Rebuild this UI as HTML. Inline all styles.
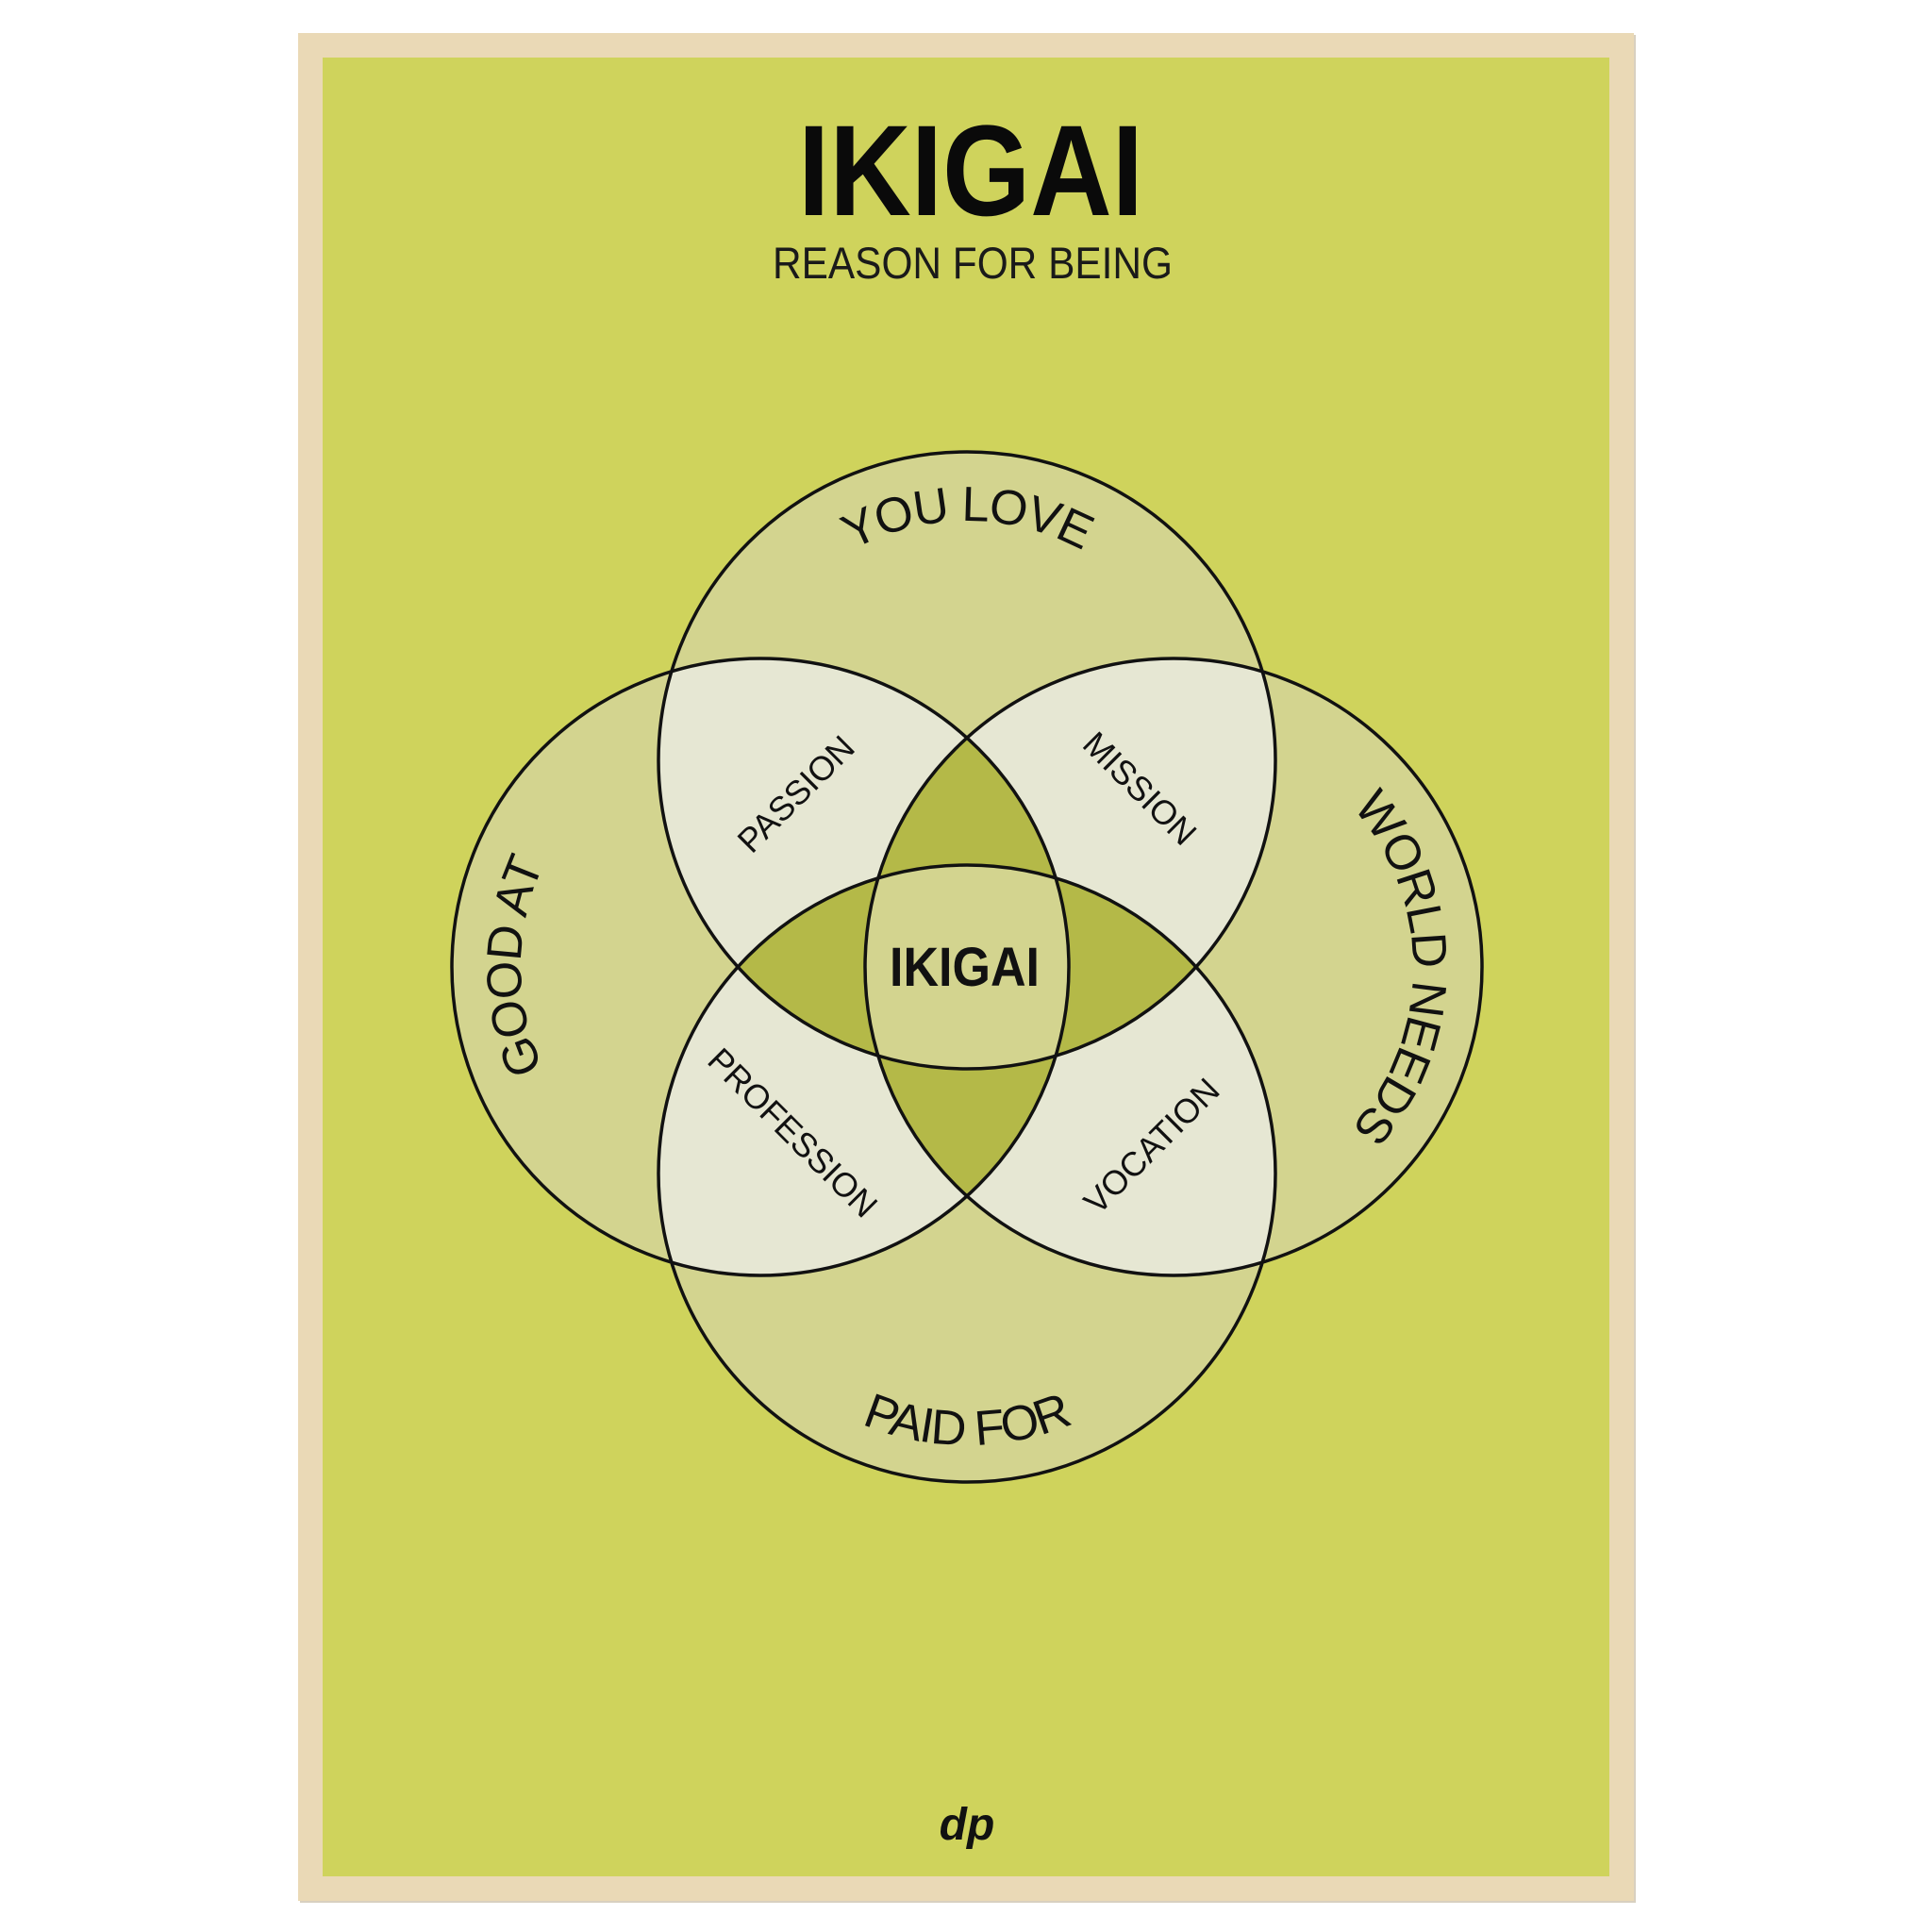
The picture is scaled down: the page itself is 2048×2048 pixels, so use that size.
<!DOCTYPE html>
<html><head><meta charset="utf-8"><style>html,body{margin:0;padding:0;background:#fff}svg{display:block}</style></head>
<body>
<svg width="2048" height="2048" viewBox="0 0 2048 2048" xmlns="http://www.w3.org/2000/svg" font-family="Liberation Sans, sans-serif">
<defs>
<clipPath id="cT"><circle cx="1025" cy="806" r="327"/></clipPath>
<clipPath id="cB"><circle cx="1025" cy="1244" r="327"/></clipPath>
<clipPath id="cL"><circle cx="806" cy="1025" r="327"/></clipPath>
<clipPath id="cR"><circle cx="1244" cy="1025" r="327"/></clipPath>
<path id="pT" d="M771,806 A254,254 0 0 1 1279,806"/>
<path id="pL" d="M806,1279 A254,254 0 0 1 806,771"/>
<path id="pR" d="M1244,771 A254,254 0 0 1 1244,1279"/>
<path id="pB" d="M737,1244 A288,288 0 0 0 1313,1244"/>
</defs>
<rect x="0" y="0" width="2048" height="2048" fill="#fff"/>
<rect x="318" y="37" width="1416" height="1980" fill="#d8d0c0"/>
<rect x="316" y="35" width="1416" height="1980" fill="#ead9b6"/>
<rect x="342" y="61" width="1364" height="1928" fill="#cfd35c"/>
<g fill="#d3d48f">
<circle cx="1025" cy="806" r="327"/><circle cx="1025" cy="1244" r="327"/>
<circle cx="806" cy="1025" r="327"/><circle cx="1244" cy="1025" r="327"/>
</g>
<g fill="#e6e7d3">
<g clip-path="url(#cT)"><circle cx="806" cy="1025" r="327"/><circle cx="1244" cy="1025" r="327"/><circle cx="1025" cy="1244" r="327"/></g>
<g clip-path="url(#cB)"><circle cx="806" cy="1025" r="327"/><circle cx="1244" cy="1025" r="327"/></g>
<g clip-path="url(#cL)"><circle cx="1244" cy="1025" r="327"/></g>
</g>
<g fill="#b4b948">
<g clip-path="url(#cT)"><g clip-path="url(#cL)"><circle cx="1244" cy="1025" r="327"/><circle cx="1025" cy="1244" r="327"/></g></g>
<g clip-path="url(#cB)"><g clip-path="url(#cR)"><circle cx="806" cy="1025" r="327"/><circle cx="1025" cy="806" r="327"/></g></g>
</g>
<g clip-path="url(#cT)"><g clip-path="url(#cB)"><g clip-path="url(#cL)"><circle cx="1244" cy="1025" r="327" fill="#d3d48f"/></g></g></g>
<g fill="none" stroke="#111" stroke-width="3.5">
<circle cx="1025" cy="806" r="327"/><circle cx="1025" cy="1244" r="327"/>
<circle cx="806" cy="1025" r="327"/><circle cx="1244" cy="1025" r="327"/>
</g>
<text x="846" y="228" font-size="137" font-weight="bold" textLength="366" lengthAdjust="spacingAndGlyphs" fill="#0a0a0a">IKIGAI</text>
<text x="819" y="295" font-size="47" textLength="424" lengthAdjust="spacingAndGlyphs" fill="#1a1a1a">REASON FOR BEING</text>
<g font-size="52" fill="#111" text-anchor="middle" letter-spacing="-1.5">
<text><textPath href="#pT" startOffset="50%">YOU LOVE</textPath></text>
<text><textPath href="#pL" startOffset="50%">GOOD AT</textPath></text>
<text><textPath href="#pR" startOffset="50%">WORLD NEEDS</textPath></text>
<text><textPath href="#pB" startOffset="50%">PAID FOR</textPath></text>
</g>
<g font-size="36" fill="#111" text-anchor="middle">
<text transform="translate(844,842) rotate(-45)" y="12">PASSION</text>
<text transform="translate(1208,836) rotate(45)" y="12">MISSION</text>
<text transform="translate(840,1201) rotate(45)" y="12">PROFESSION</text>
<text transform="translate(1221,1215) rotate(-45)" y="12">VOCATION</text>
</g>
<text x="943" y="1045" font-size="58" font-weight="bold" textLength="159" lengthAdjust="spacingAndGlyphs" fill="#111">IKIGAI</text>
<text x="1025" y="1950" font-size="48" font-weight="bold" font-style="italic" text-anchor="middle" fill="#111">dp</text>
</svg>
</body></html>
